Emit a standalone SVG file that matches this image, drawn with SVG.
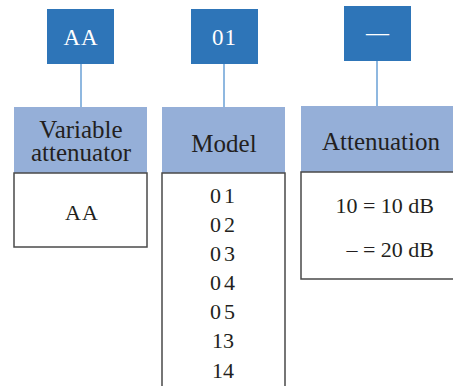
<svg xmlns="http://www.w3.org/2000/svg" width="453" height="386" viewBox="0 0 453 386">
<style>
.code{fill:#2E75B8}
.hdr{fill:#95AFD8}
.body{fill:#FFFFFF;stroke:#4A4A4A;stroke-width:1.5}
.link{stroke:#8FB8E0;stroke-width:2;fill:none}
text{font-family:"Liberation Serif","Times New Roman",serif;fill:#231F20;text-anchor:middle}
.ct{fill:#FFFFFF;font-size:23px}
.ht{font-size:25px}
.bt{font-size:22px}
.end{text-anchor:end}
</style>
<rect width="453" height="386" fill="#FFFFFF"/>
<g id="connectors">
<line class="link" x1="81" y1="64" x2="81" y2="107"/>
<line class="link" x1="224" y1="64" x2="224" y2="107"/>
<line class="link" x1="377" y1="61" x2="377" y2="106"/>
</g>
<g id="code-aa">
<rect class="code" x="47" y="9" width="67" height="55"/>
<text class="ct" x="81" y="45" letter-spacing="1">AA</text>
</g>
<g id="code-01">
<rect class="code" x="191" y="9" width="67" height="55"/>
<text class="ct" x="224.5" y="45" letter-spacing="1">01</text>
</g>
<g id="code-dash">
<rect class="code" x="344" y="6" width="67" height="55"/>
<text class="ct" x="377.5" y="40" font-size="25">—</text>
</g>
<g id="variable-attenuator">
<rect class="hdr" x="14" y="107" width="133" height="66"/>
<text class="ht" x="81" y="138">Variable</text>
<text class="ht" x="81" y="161">attenuator</text>
<rect class="body" x="14" y="173" width="133" height="74"/>
<text class="bt" x="82" y="220" letter-spacing="1">AA</text>
</g>
<g id="model">
<rect class="hdr" x="162" y="107" width="123" height="66"/>
<text class="ht" x="224" y="152">Model</text>
<path class="body" d="M162,390 V173 H285 V390"/>
<text class="bt" x="224" y="203" letter-spacing="3">01</text>
<text class="bt" x="224" y="232" letter-spacing="3">02</text>
<text class="bt" x="224" y="261" letter-spacing="3">03</text>
<text class="bt" x="224" y="290" letter-spacing="3">04</text>
<text class="bt" x="224" y="319" letter-spacing="3">05</text>
<text class="bt" x="223" y="348">13</text>
<text class="bt" x="223" y="378">14</text>
</g>
<g id="attenuation">
<rect class="hdr" x="301" y="106" width="160" height="66"/>
<text class="ht" x="381" y="150">Attenuation</text>
<path class="body" d="M460,279 H301 V172 H460"/>
<text class="bt end" x="434" y="213">10 = 10 dB</text>
<text class="bt end" x="434" y="257">– = 20 dB</text>
</g>
</svg>
